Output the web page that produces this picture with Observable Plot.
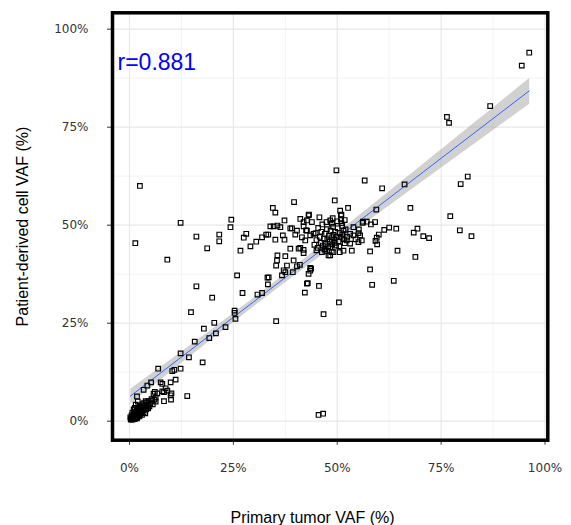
<!DOCTYPE html>
<html>
<head>
<meta charset="utf-8">
<script src="https://cdn.jsdelivr.net/npm/d3@7"></script>
<script src="https://cdn.jsdelivr.net/npm/@observablehq/plot@0.6"></script>
<style>
  html, body { margin: 0; padding: 0; background: white; }
</style>
</head>
<body>
<div id="chart"></div>
<script>
// [primary tumor VAF %, patient-derived cell VAF %]
const highPoints = [
  [96.2,94.0],[94.4,90.7],[86.8,80.4],[76.4,77.6],[76.9,76.1],
  [81.4,62.4],[79.7,60.5],[77.2,52.3],[79.5,48.7],[82.3,47.2],
  [66.2,60.4],[67.6,54.4],[60.8,59.4],[56.6,61.4],[49.8,64.0],[49.4,56.3],[52.6,54.4],[59.4,54.0],
  [50.9,52.5],[50.9,51.5],[72.1,46.7],[70.7,47.2],[68.4,48.1],[69.3,49.1],[64.2,49.1],[62.5,49.4],
  [61.3,48.8],[60.0,47.6],[59.5,46.8],[59.2,46.0],[59.6,45.1],[58.1,50.2],[57.1,50.9],[56.2,50.9],
  [57.9,43.3],[64.5,43.5],[68.8,41.9],[57.9,38.7],[58.4,34.8],[63.6,35.8],[50.4,30.3],[46.7,27.3],
  [45.6,34.5],[42.7,35.1],[42.2,32.8],[43.1,37.6],[43.7,38.9],
  [55.5,47.4],[55.9,46.1],[53.1,45.3],[55.2,48.9],[53.9,49.5],[51.6,46.4],[49.1,43.1],[48.3,42.3],[47.5,43.3],
  [45.5,1.6],[46.6,1.9]
];
const midPoints = [
  [39.6,55.9],[34.5,54.4],[35.1,53.2],[37.3,51.2],[43.2,52.7],[50.7,53.7],[51.0,52.7],[48.3,51.2],[48.7,50.4],
  [41.1,51.6],[41.9,50.8],[43.9,50.8],[56.1,50.6],[59.1,50.8],[33.9,49.7],[34.7,49.7],[35.6,49.9],[36.3,49.5],
  [38.7,49.2],[39.1,49.2],[40.3,48.6],[39.9,47.6],[32.9,47.6],[33.4,47.6],[31.9,46.9],[30.5,45.8],[29.1,44.6],
  [35.1,46.3],[36.9,47.4],[37.3,46.3],[41.5,46.9],[42.3,46.1],[41.1,44.2],[42.7,48.6],[43.5,47.4],[44.3,47.8],
  [53.1,47.8],[53.9,47.4],[55.1,48.0],[55.1,45.7],[52.3,46.1],[53.5,43.5],[50.6,43.1],[51.5,43.5],
  [48.3,44.4],[48.7,43.1],[47.9,42.3],[46.3,43.1],[47.1,43.5],
  [38.7,44.0],[41.9,43.7],[41.9,42.9],[35.6,42.3],[35.5,41.0],[35.3,39.7],[37.5,42.1],[39.5,41.0],[40.3,39.5],
  [37.9,39.7],[37.1,38.5],[36.7,37.2],[37.5,38.0],[39.3,38.0],[43.5,39.1],[43.5,38.4],[33.5,36.7],[42.9,35.2],
  [41.0,39.9],[45.7,52.0],[43.1,52.5],[42.7,51.2],[41.9,49.7],[42.5,48.7],
  [51.0,50.5],[51.8,51.3],[52.0,48.9],[51.2,47.6],[52.4,47.0],[51.8,45.4],[54.4,46.4]
];
const densePoints = [
  [44.5,45.0],[45.0,46.2],[45.3,44.2],[45.8,47.0],[46.0,45.5],[46.2,48.3],[46.5,44.8],[46.8,46.6],[47.0,47.8],
  [47.2,45.2],[47.5,49.0],[47.6,46.4],[47.8,44.6],[48.0,47.3],[48.2,45.8],[48.4,48.6],[48.6,46.9],[48.8,45.1],
  [49.0,49.6],[49.1,47.5],[49.3,46.3],[49.5,48.3],[49.7,44.8],[49.9,47.0],[50.1,49.2],[50.3,45.9],[50.6,48.0],
  [50.8,47.0],[51.2,49.8],[51.5,48.6],[45.4,49.3],[44.8,48.0],[46.4,50.2],[47.4,50.8],[48.9,51.8],[50.0,51.0],
  [45.0,43.6],[46.9,43.9],[49.4,45.5],[50.5,44.6]
];
const leftPoints = [
  [12.3,50.6],[16.1,47.1],[18.7,44.1],[21.6,47.6],[21.6,45.9],[24.5,51.4],[24.3,49.5],[26.7,43.5],[27.5,46.8],
  [28.1,47.8],[2.5,60.0],[1.4,45.4],[9.1,41.2],[40.7,44.0],
  [25.9,37.2],[33.2,36.6],[33.3,34.9],[27.2,32.7],[30.8,32.3],[31.9,32.7],[16.1,34.4],[19.9,31.5],[14.8,27.8],
  [25.3,28.2],[25.3,27.6],[25.5,26.1],[20.4,25.1],[23.1,24.0],[17.9,23.6],[35.3,25.5],
  [20.8,22.4],[19.2,21.2],[15.7,20.3],[12.3,17.3],[14.3,16.3],[17.6,15.0],[6.9,13.4],[10.3,12.8],[10.8,13.1],
  [12.3,13.4],[11.1,10.6],[9.9,9.9],[7.5,9.9],[7.9,9.5],[5.2,9.9],[4.3,9.1],[3.4,8.0],[1.8,6.3],[8.7,8.4],
  [9.1,7.8],[8.3,7.4],[10.1,7.1],[10.0,5.5],[8.3,5.1],[13.9,6.4],[5.8,7.0],[6.3,6.0],[3.9,5.1],[4.1,4.0],[3.8,2.0],
  [6.1,7.5],[6.7,7.1],[7.9,7.6],[9.9,6.6],[5.5,5.3],[6.3,5.0]
];
const lowPoints = [
  [0.4,0.6],[0.6,1.0],[0.8,0.5],[0.9,1.4],[1.0,0.8],[1.1,1.9],[1.2,1.2],[1.3,0.6],[1.4,2.3],[1.5,1.5],
  [1.6,0.9],[1.7,2.7],[1.8,1.8],[1.9,1.1],[2.0,3.1],[2.1,2.2],[2.2,1.4],[2.3,3.5],[2.4,2.6],[2.5,1.8],
  [2.6,4.0],[2.7,3.0],[2.8,2.2],[2.9,3.6],[3.0,1.6],[3.1,4.3],[3.2,2.8],[3.3,3.4],[3.5,4.6],[3.6,3.0],
  [3.8,3.9],[4.0,4.8],[4.2,3.4],[4.4,4.2],[4.6,5.1],[4.8,3.8],[5.0,4.6],[5.3,5.6],[5.6,4.3],[6.0,5.5],
  [0.7,2.2],[1.0,3.0],[1.5,4.2],[2.0,5.0],[0.5,1.5],[0.2,1.0],
  [0.3,0.4],[0.5,0.8],[0.7,0.4],[0.9,0.9],[1.1,0.5],[1.2,1.6],[1.4,1.0],[1.6,1.4],[1.8,0.7],[2.0,1.9],
  [2.2,2.6],[2.4,1.2],[2.6,2.2],[2.8,3.0],[3.0,2.5],[3.4,2.2],[3.7,3.4],[4.0,3.0],[4.5,3.3],[1.3,3.4]
];
const majorTicks = [0, 25, 50, 75, 100];
const minorTicks = [12.5, 37.5, 62.5, 87.5];
const corrLabel = "r=0.881";
const xTitle = "Primary tumor VAF (%)";
const yTitle = "Patient-derived cell VAF (%)";

const data = [...highPoints, ...midPoints, ...densePoints, ...leftPoints, ...lowPoints]
  .map(([x, y]) => ({x, y}));

const chart = Plot.plot({
  width: 571,
  height: 525,
  marginLeft: 112,
  marginRight: 23.7,
  marginTop: 12.3,
  marginBottom: 85.3,
  x: {domain: [-4.09, 100.67]},
  y: {domain: [-4.85, 104.18]},
  style: {fontFamily: "DejaVu Sans", background: "white"},
  marks: [
    Plot.gridX(minorTicks, {stroke: "#f3f3f3", strokeOpacity: 1, strokeWidth: 1}),
    Plot.gridY(minorTicks, {stroke: "#f3f3f3", strokeOpacity: 1, strokeWidth: 1}),
    Plot.gridX(majorTicks, {stroke: "#e8e8e8", strokeOpacity: 1, strokeWidth: 1.2}),
    Plot.gridY(majorTicks, {stroke: "#e8e8e8", strokeOpacity: 1, strokeWidth: 1.2}),
    Plot.linearRegressionY(data, {x: "x", y: "y", stroke: "#3366FF", strokeWidth: 1, fill: "#999999", fillOpacity: 0.45}),
    Plot.dot(data, {x: "x", y: "y", symbol: "square", r: 2.6, fill: "none", stroke: "black", strokeWidth: 1.15}),
    Plot.axisX(majorTicks, {tickFormat: d => d + "%", tickSize: 5, tickPadding: 18, fontSize: 12, label: null, color: "#333", fontFamily: "DejaVu Sans"}),
    Plot.axisY(majorTicks, {tickFormat: d => d + "%", tickSize: 5, tickPadding: 19, fontSize: 12, label: null, color: "#333", fontFamily: "DejaVu Sans"}),
    Plot.text([corrLabel], {text: d => d, frameAnchor: "top-left", dx: 5, dy: 40.7, lineAnchor: "top", textAnchor: "start", fontSize: 23, fill: "blue", fontFamily: "Liberation Sans"}),
    Plot.text([xTitle], {text: d => d, frameAnchor: "bottom", dx: -17.6, dy: 77.3, lineAnchor: "middle", textAnchor: "middle", fontSize: 16, fill: "black", fontFamily: "Liberation Sans"}),
    Plot.text([yTitle], {text: d => d, frameAnchor: "left", dx: -89.5, rotate: -90, lineAnchor: "middle", textAnchor: "middle", fontSize: 16, fill: "black", fontFamily: "Liberation Sans"}),
    Plot.frame({stroke: "black", strokeWidth: 3.5})
  ]
});
document.getElementById("chart").appendChild(chart);
</script>
</body>
</html>
